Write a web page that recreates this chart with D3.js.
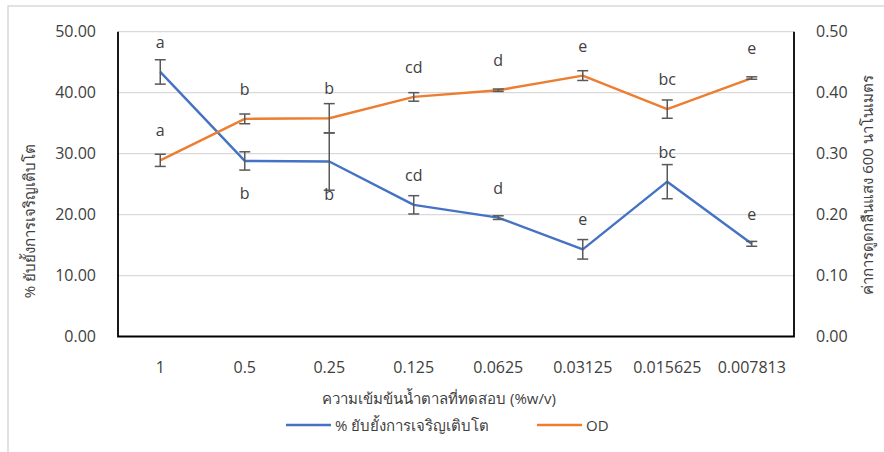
<!DOCTYPE html>
<html>
<head>
<meta charset="utf-8">
<script src="https://cdn.jsdelivr.net/npm/d3@7"></script>
<style>
  body { margin: 0; background: #fff; }
  text { font-family: "Open Sans", "Noto Sans", sans-serif; fill: #404040; }
</style>
</head>
<body>
<div id="chart"></div>
<script>
const categories = ["1", "0.5", "0.25", "0.125", "0.0625", "0.03125", "0.015625", "0.007813"];
const inhibition = [43.4, 28.8, 28.7, 21.6, 19.5, 14.3, 25.4, 15.2];
const inhibitionErr = [2.0, 1.5, 4.7, 1.5, 0.3, 1.6, 2.8, 0.4];
const inhibitionLetters = ["a", "b", "b", "cd", "d", "e", "bc", "e"];
const od = [0.289, 0.357, 0.358, 0.393, 0.404, 0.428, 0.373, 0.424];
const odErr = [0.010, 0.008, 0.024, 0.007, 0.002, 0.008, 0.015, 0.002];
const odLetters = ["a", "b", "b", "cd", "d", "e", "bc", "e"];
const leftTicks = [0, 10, 20, 30, 40, 50];
const rightTicks = [0, 0.1, 0.2, 0.3, 0.4, 0.5];

function drawChart() {
  const width = 884;
  const height = 452;
  const plot = { left: 118, right: 794, top: 31.7, bottom: 336.5 };

  const svg = d3.select("#chart")
    .append("svg")
    .attr("width", width)
    .attr("height", height);

  // chart border (cut off on right/bottom like the picture)
  svg.append("rect")
    .attr("x", 8).attr("y", 6)
    .attr("width", 900).attr("height", 460)
    .attr("fill", "#fff")
    .attr("stroke", "#d9d9d9")
    .attr("stroke-width", 1.5);

  const x = d3.scaleBand()
    .domain(categories)
    .range([plot.left, plot.right])
    .padding(0);
  const cx = c => x(c) + x.bandwidth() / 2;

  const yL = d3.scaleLinear().domain([0, 50]).range([plot.bottom, plot.top]);
  const yR = d3.scaleLinear().domain([0, 0.5]).range([plot.bottom, plot.top]);

  // gridlines
  svg.append("g")
    .selectAll("line")
    .data(leftTicks.slice(1))
    .join("line")
    .attr("x1", plot.left).attr("x2", plot.right)
    .attr("y1", d => yL(d)).attr("y2", d => yL(d))
    .attr("stroke", "#d9d9d9")
    .attr("stroke-width", 1.2);

  // left axis
  const leftAxis = svg.append("g")
    .attr("transform", `translate(${plot.left},0)`)
    .call(d3.axisLeft(yL).tickValues(leftTicks).tickFormat(d3.format(".2f")).tickSize(0).tickPadding(22));
  leftAxis.select(".domain").remove();

  // right axis
  const rightAxis = svg.append("g")
    .attr("transform", `translate(${plot.right},0)`)
    .call(d3.axisRight(yR).tickValues(rightTicks).tickFormat(d3.format(".2f")).tickSize(0).tickPadding(22));
  rightAxis.select(".domain").remove();

  // bottom axis
  const bottomAxis = svg.append("g")
    .attr("transform", `translate(0,${plot.bottom})`)
    .call(d3.axisBottom(x).tickSize(0).tickPadding(25));
  bottomAxis.select(".domain").remove();

  svg.selectAll(".tick text")
    .attr("font-size", 16)
    .attr("fill", "#404040")
    .style("font-family", "'Open Sans', 'Noto Sans', sans-serif");

  // axis lines
  svg.append("path")
    .attr("d", `M${plot.left},${plot.top}V${plot.bottom}H${plot.right}V${plot.top}`)
    .attr("fill", "none")
    .attr("stroke", "#000")
    .attr("stroke-width", 1.8);

  const series = [
    { values: inhibition, err: inhibitionErr, letters: inhibitionLetters, y: yL, color: "#4472c4",
      below: [false, true, true, false, false, false, false, false] },
    { values: od, err: odErr, letters: odLetters, y: yR, color: "#ed7d31",
      below: [false, false, false, false, false, false, false, false] }
  ];

  series.forEach(s => {
    const line = d3.line()
      .x((d, i) => cx(categories[i]))
      .y(d => s.y(d));

    svg.append("path")
      .datum(s.values)
      .attr("d", line)
      .attr("fill", "none")
      .attr("stroke", s.color)
      .attr("stroke-width", 2.4)
      .attr("stroke-linejoin", "round");
  });

  // error bars on top of lines
  series.forEach(s => {
    const g = svg.append("g");
    s.values.forEach((v, i) => {
      const px = cx(categories[i]);
      const y1 = s.y(v + s.err[i]);
      const y2 = s.y(v - s.err[i]);
      g.append("line")
        .attr("x1", px).attr("x2", px).attr("y1", y1).attr("y2", y2)
        .attr("stroke", "#595959").attr("stroke-width", 1.5);
      [y1, y2].forEach(yy => {
        g.append("line")
          .attr("x1", px - 5.5).attr("x2", px + 5.5).attr("y1", yy).attr("y2", yy)
          .attr("stroke", "#595959").attr("stroke-width", 1.5);
      });
    });
  });

  // letter labels
  series.forEach(s => {
    svg.append("g")
      .selectAll("text")
      .data(s.letters)
      .join("text")
      .attr("x", (d, i) => cx(categories[i]))
      .attr("y", (d, i) => s.y(s.values[i]) + (s.below[i] ? 32 : -30))
      .attr("text-anchor", "middle")
      .attr("dominant-baseline", "central")
      .attr("font-size", 16)
      .text(d => d);
  });

  // axis titles
  svg.append("text")
    .attr("transform", "translate(29,221) rotate(-90)")
    .attr("text-anchor", "middle")
    .attr("dominant-baseline", "central")
    .attr("font-size", 15)
    .text("% ยับยั้งการเจริญเติบโต");

  svg.append("text")
    .attr("transform", "translate(867,185) rotate(-90)")
    .attr("text-anchor", "middle")
    .attr("dominant-baseline", "central")
    .attr("font-size", 15)
    .text("ค่าการดูดกลืนแสง 600 นาโนเมตร");

  svg.append("text")
    .attr("x", 439).attr("y", 398)
    .attr("text-anchor", "middle")
    .attr("dominant-baseline", "central")
    .attr("font-size", 15)
    .text("ความเข้มข้นน้ำตาลที่ทดสอบ (%w/v)");

  // legend
  const legend = [
    { label: "% ยับยั้งการเจริญเติบโต", color: "#4472c4", x: 286 },
    { label: "OD", color: "#ed7d31", x: 537 }
  ];
  const lg = svg.append("g").selectAll("g").data(legend).join("g")
    .attr("transform", d => `translate(${d.x},425)`);
  lg.append("line")
    .attr("x1", 0).attr("x2", 45)
    .attr("stroke", d => d.color).attr("stroke-width", 2.4);
  lg.append("text")
    .attr("x", 49)
    .attr("dominant-baseline", "central")
    .attr("font-size", 15)
    .text(d => d.label);
}

drawChart();
</script>
</body>
</html>
